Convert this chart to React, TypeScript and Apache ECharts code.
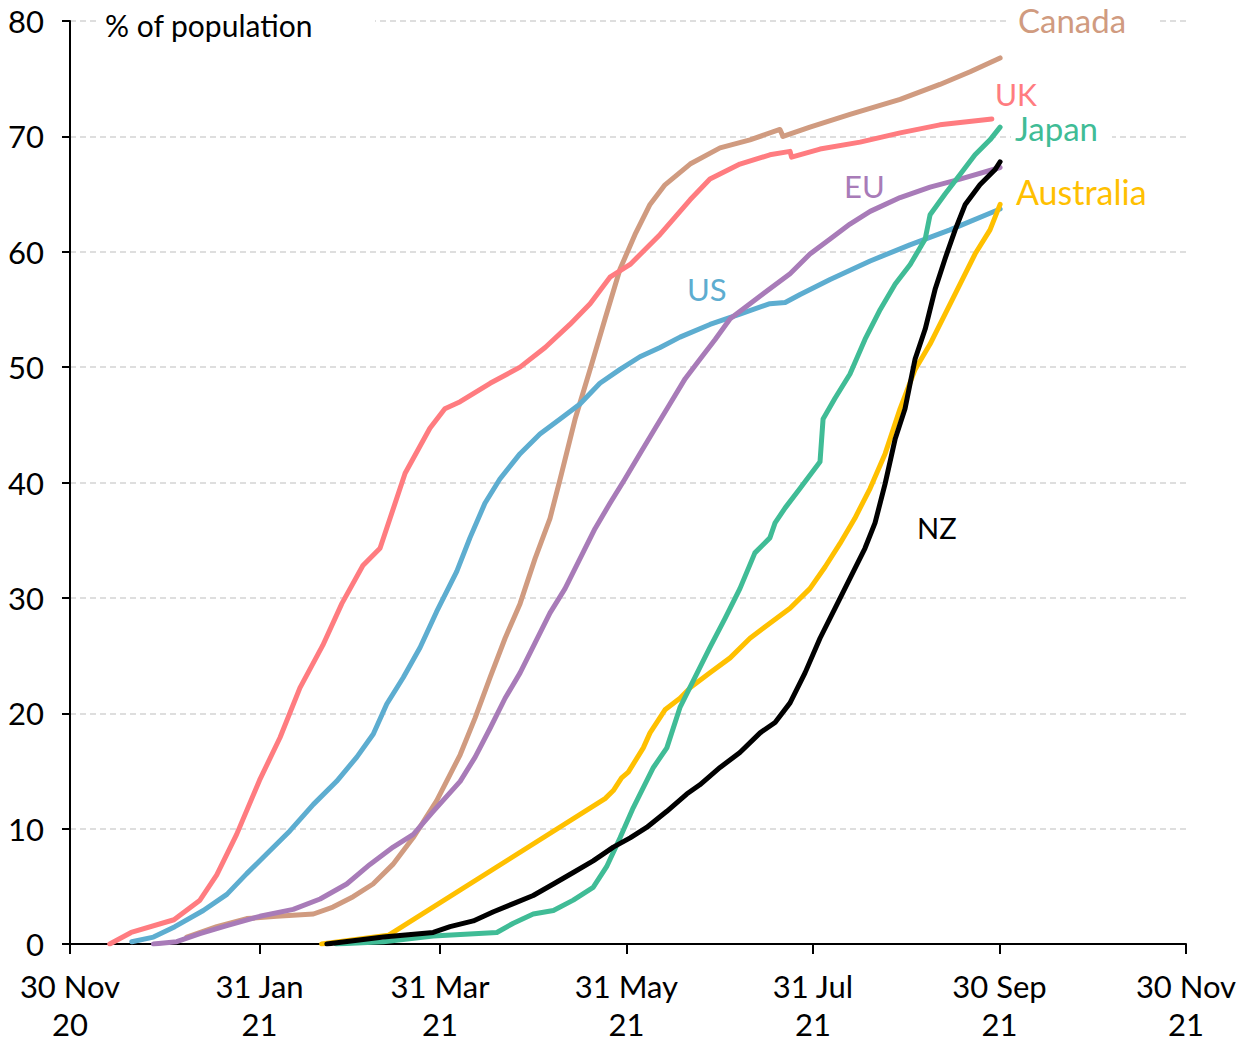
import React, { useEffect, useRef } from "react";
import * as echarts from "echarts";

// x values: days since 30 Nov 2020; y values: % of population
const ukData: [number, number][] = [
  [13, 0], [20, 1.0], [34, 2.1], [42.5, 3.8], [48, 6.0], [54.5, 9.5], [62, 14.2], [68.7, 17.9],
  [75.2, 22.2], [82.7, 25.9], [88.9, 29.5], [95.8, 32.8], [101.4, 34.3], [109.6, 40.8], [117.7, 44.7],
  [122.6, 46.4], [127.6, 47.0], [137.4, 48.6], [147.2, 50.0], [155.4, 51.7], [163.5, 53.7], [170.1, 55.5],
  [176.6, 57.8], [183.2, 58.9], [193, 61.5], [202.8, 64.5], [209.3, 66.3], [219.1, 67.6], [228.9, 68.4],
  [235.5, 68.7], [236, 68.2], [245.3, 68.9], [258.4, 69.5], [271.5, 70.3], [284.5, 71.0], [301.5, 71.5],
];
const canadaData: [number, number][] = [
  [38.2, 0.6], [48, 1.5], [57.8, 2.2], [67.6, 2.4], [79.6, 2.6], [86, 3.2], [92.6, 4.1], [99.1, 5.2],
  [105.6, 6.9], [112.2, 9.2], [119.9, 12.4], [127.6, 16.4], [132.5, 19.6], [137.4, 23.1], [142.3, 26.5],
  [147.2, 29.5], [152.1, 33.4], [157, 36.9], [160.3, 40.3], [165.2, 45.5], [170.1, 49.8], [175, 54.2],
  [179.9, 58.5], [184.8, 61.5], [189.7, 64.1], [194.6, 65.8], [202.8, 67.6], [212.6, 69.0], [222.4, 69.7],
  [232.2, 70.6], [233.2, 70.0], [242, 70.8], [255.1, 71.9], [271.5, 73.2], [284.5, 74.5], [294.4, 75.6],
  [304.2, 76.8],
];
const usData: [number, number][] = [
  [20.2, 0.2], [27.3, 0.6], [34.3, 1.5], [43.6, 2.9], [51.3, 4.3], [57.8, 6.1], [64.3, 7.8], [71.9, 9.8],
  [79.6, 12.1], [87.2, 14.1], [93.8, 16.2], [99.2, 18.2], [103.6, 20.8], [109, 23.1], [114.5, 25.7],
  [119.9, 28.8], [126.5, 32.3], [130.8, 35.2], [135.7, 38.2], [140.6, 40.3], [147.2, 42.5], [153.7, 44.2],
  [160.3, 45.5], [166.8, 46.8], [173.3, 48.6], [179.9, 49.8], [186.4, 50.9], [193, 51.7], [199.5, 52.6],
  [209.3, 53.7], [219.1, 54.6], [228.9, 55.5], [233.9, 55.6], [238.8, 56.3], [248.6, 57.6], [261.7, 59.2],
  [274.7, 60.6], [287.8, 61.9], [304.2, 63.7],
];
const euData: [number, number][] = [
  [27.3, 0], [34.9, 0.2], [42.5, 0.9], [51.3, 1.6], [62.1, 2.4], [73, 3.0], [81.8, 3.9], [90.5, 5.2],
  [98.1, 6.9], [105.7, 8.4], [112.3, 9.5], [118.8, 11.5], [127.6, 14.1], [132.5, 16.2], [137.4, 18.7],
  [142.3, 21.3], [147.2, 23.5], [152.1, 26.1], [157, 28.7], [161.9, 30.8], [166.8, 33.4], [171.7, 36.0],
  [176.6, 38.2], [181.5, 40.3], [186.4, 42.5], [191.4, 44.7], [196.2, 46.8], [201.2, 49.0], [206.1, 50.7],
  [211, 52.4], [215.9, 54.2], [222.4, 55.5], [228.9, 56.8], [235.5, 58.1], [242, 59.8], [248.6, 61.1],
  [255.1, 62.4], [261.7, 63.5], [271.5, 64.7], [281.3, 65.6], [291.1, 66.3], [304.2, 67.3],
];
const australiaData: [number, number][] = [
  [82.3, 0], [104.1, 0.75], [175, 12.6], [177.7, 13.3], [180.4, 14.4], [182.6, 14.9], [187.5, 17.0],
  [189.7, 18.3], [194.6, 20.3], [199.5, 21.3], [202.8, 22.2], [209.3, 23.5], [215.9, 24.8], [222.4, 26.5],
  [228.9, 27.8], [235.5, 29.1], [242, 30.8], [247, 32.7], [251.8, 34.7], [256.7, 36.9], [261.7, 39.5],
  [266.6, 42.5], [271.5, 46.4], [276.4, 49.8], [281.3, 52.0], [286.2, 54.6], [291.1, 57.2], [296, 59.8],
  [300.9, 61.9], [304.2, 64.1],
];
const japanData: [number, number][] = [
  [87, 0], [102.5, 0.2], [118.8, 0.7], [139.6, 1.0], [145, 1.8], [151.5, 2.6], [158.1, 2.9], [164.6, 3.8],
  [171.1, 4.9], [175.5, 6.7], [179.9, 9.2], [184.2, 11.8], [190.8, 15.3], [195.2, 17.0], [199.5, 20.5],
  [204.4, 23.1], [209.3, 25.7], [214.2, 28.2], [219.1, 30.8], [224, 33.9], [228.9, 35.2], [230.6, 36.5],
  [233.9, 37.8], [238.8, 39.5], [245.3, 41.8], [246.3, 45.5], [250.2, 47.3], [255.1, 49.4], [260, 52.4],
  [265, 55.0], [269.9, 57.2], [274.8, 58.9], [279.7, 61.1], [281.3, 63.2], [286.2, 65.0], [291.1, 66.7],
  [296, 68.4], [300.9, 69.7], [304.2, 70.8],
];
const nzData: [number, number][] = [
  [84, 0], [102.5, 0.6], [118.8, 1.0], [124.3, 1.5], [131.9, 2.0], [138.5, 2.8], [145, 3.5], [151.5, 4.2],
  [158.1, 5.2], [164.6, 6.2], [171.1, 7.2], [177.7, 8.4], [183.2, 9.2], [188.6, 10.1], [195.2, 11.5],
  [201.7, 13.0], [206, 13.8], [212.6, 15.3], [219.1, 16.6], [225.7, 18.3], [230.6, 19.2], [235.5, 20.9],
  [240.4, 23.5], [245.3, 26.5], [250.2, 29.1], [255.1, 31.7], [260, 34.3], [263.3, 36.5], [266.6, 39.9],
  [269.9, 43.8], [273.1, 46.4], [276.4, 50.7], [279.7, 53.3], [283, 56.8], [286.2, 59.4], [289.5, 61.9],
  [292.8, 64.1], [297.6, 65.8], [302.5, 67.1], [304.2, 67.8],
];

// tick positions in days since 30 Nov 2020
const tickDays = [0, 62, 121, 182, 243, 304, 365];
const tickLabels = ["30 Nov\n20", "31 Jan\n21", "31 Mar\n21", "31 May\n21", "31 Jul\n21", "30 Sep\n21", "30 Nov\n21"];

const FONT = "Lato, 'Open Sans', sans-serif";

export default function App() {
  const ref = useRef<HTMLDivElement>(null);
  useEffect(() => {
    if (!ref.current) return;
    const chart = echarts.init(ref.current, undefined, { renderer: "svg" });
    const mk = (name: string, data: [number, number][], color: string, z = 2) => ({
      name,
      type: "line",
      data,
      showSymbol: false,
      symbol: "none",
      z,
      lineStyle: { color, width: 5, join: "round", cap: "round" },
    });
    const lbl = (text: string, x: number, y: number, fill: string, extra: any = {}) => ({
      type: "text",
      x,
      y,
      z: 10,
      style: {
        text,
        fontSize: 33,
        fontFamily: FONT,
        fill,
        align: "left",
        verticalAlign: "middle",
        ...extra,
      },
    });
    chart.setOption({
      animation: false,
      backgroundColor: "#fff",
      textStyle: { fontFamily: FONT },
      grid: { left: 70, right: 55, top: 21, bottom: 96 },
      xAxis: {
        type: "value",
        min: 0,
        max: 365,
        axisLine: { show: true, lineStyle: { color: "#000", width: 2 } },
        axisTick: { show: true, customValues: tickDays, length: 10, lineStyle: { color: "#000", width: 2 } },
        axisLabel: {
          customValues: tickDays,
          color: "#000",
          fontSize: 31,
          fontFamily: FONT,
          lineHeight: 38,
          margin: 23,
          formatter: (val: number) => {
            const i = tickDays.findIndex((t) => Math.abs(t - val) < 0.5);
            return i >= 0 ? tickLabels[i] : "";
          },
        },
        splitLine: { show: false },
      },
      yAxis: {
        type: "value",
        min: 0,
        max: 80,
        interval: 10,
        axisLine: { show: true, lineStyle: { color: "#000", width: 2 } },
        axisTick: { show: true, length: 8, lineStyle: { color: "#000", width: 2 } },
        axisLabel: { color: "#000", fontSize: 31, fontFamily: FONT, margin: 26 },
        splitLine: { show: true, lineStyle: { color: "#d4d4d4", type: [6, 4], width: 1.5 } },
      },
      series: [
        mk("Canada", canadaData, "#D09B80"),
        mk("UK", ukData, "#FF7C80"),
        mk("US", usData, "#5DADD0"),
        mk("EU", euData, "#A87BB8"),
        mk("Australia", australiaData, "#FFC000"),
        mk("Japan", japanData, "#40BC96"),
        mk("NZ", nzData, "#000000", 5),
      ],
      graphic: [
        lbl("% of population", 100, 25, "#000", { fontSize: 30, backgroundColor: "#fff", padding: [2, 62, 2, 5] }),
        lbl("Canada", 1010, 20, "#D09B80", { fontSize: 33, backgroundColor: "#fff", padding: [0, 30, 0, 8], letterSpacing: 1.5 }),
        lbl("UK", 995, 94, "#FF7C80", { fontSize: 30 }),
        lbl("Japan", 1011, 128, "#40BC96", { fontSize: 33, backgroundColor: "#fff", padding: [0, 14, 0, 4], letterSpacing: 1.2 }),
        lbl("EU", 844, 186, "#A87BB8", { fontSize: 31 }),
        lbl("Australia", 1016, 191, "#FFC000", { fontSize: 34, letterSpacing: 0.5 }),
        lbl("US", 687, 289, "#5DADD0", { fontSize: 31 }),
        lbl("NZ", 917, 527, "#000", { fontSize: 29 }),
      ],
    });
    return () => chart.dispose();
  }, []);
  return <div ref={ref} style={{ width: 1241, height: 1043, position: "absolute", left: 0, top: 0 }} />;
}
